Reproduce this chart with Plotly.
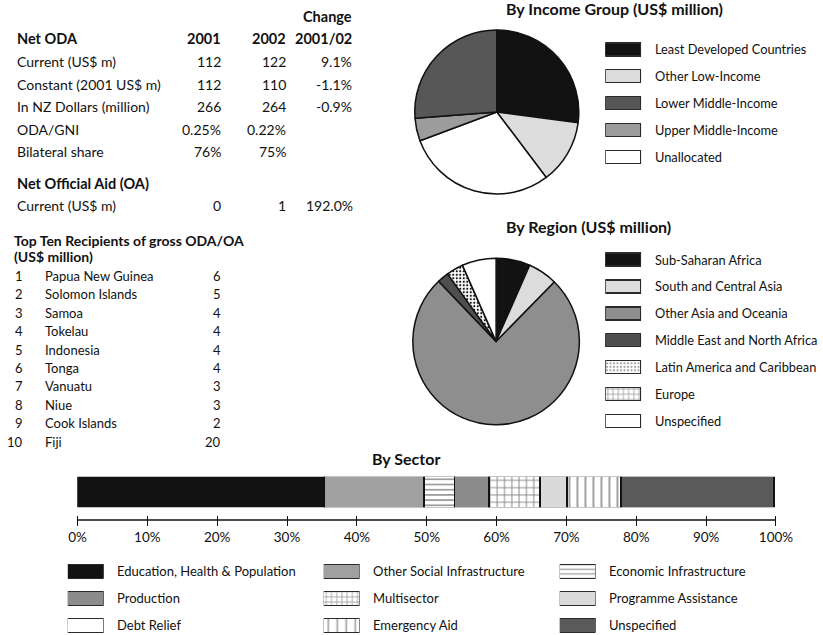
import plotly.graph_objects as go

W, H = 823, 635
FONT = "Lato"
INK = "#111111"

# ---------------- data ----------------
net_oda_labels = ["Current (US$ m)", "Constant (2001 US$ m)", "In NZ Dollars (million)", "ODA/GNI", "Bilateral share"]
net_oda_2001 = ["112", "112", "266", "0.25%", "76%"]
net_oda_2002 = ["122", "110", "264", "0.22%", "75%"]
net_oda_change = ["9.1%", "-1.1%", "-0.9%", "", ""]

oa_labels = ["Current (US$ m)"]
oa_2001 = ["0"]
oa_2002 = ["1"]
oa_change = ["192.0%"]

recipients = ["Papua New Guinea", "Solomon Islands", "Samoa", "Tokelau", "Indonesia",
              "Tonga", "Vanuatu", "Niue", "Cook Islands", "Fiji"]
recipient_values = [6, 5, 4, 4, 4, 4, 3, 3, 2, 20]

income_labels = ["Least Developed Countries", "Other Low-Income", "Lower Middle-Income",
                 "Upper Middle-Income", "Unallocated"]
income_values = [27.1, 12.6, 26.2, 4.5, 29.6]
income_pie_order = [0, 1, 4, 3, 2]

region_labels = ["Sub-Saharan Africa", "South and Central Asia", "Other Asia and Oceania",
                 "Middle East and North Africa", "Latin America and Caribbean", "Europe", "Unspecified"]
region_values = [6.6, 5.7, 75.4, 2.2, 3.3, 0.0, 6.6]

sector_labels = ["Education, Health & Population", "Other Social Infrastructure", "Economic Infrastructure",
                 "Production", "Multisector", "Programme Assistance",
                 "Debt Relief", "Emergency Aid", "Unspecified"]
sector_values = [35.3, 14.3, 4.4, 4.9, 7.3, 3.9, 0.0, 7.7, 21.9]
sector_bar_order = [0, 1, 2, 3, 4, 5, 7, 6, 8]
sector_ticks = [0, 10, 20, 30, 40, 50, 60, 70, 80, 90, 100]
sector_tick_text = ["0%", "10%", "20%", "30%", "40%", "50%", "60%", "70%", "80%", "90%", "100%"]

# ---------------- styles ----------------
income_colors = ["#121212", "#dcdcdc", "#575757", "#9c9c9c", "#ffffff"]
region_colors = ["#121212", "#dcdcdc", "#8e8e8e", "#4e4e4e", "#ffffff", "#ffffff", "#ffffff"]
region_patterns = ["", "", "", "", ".", "+", ""]
region_psize = [5, 5, 5, 5, 3.5, 5.2, 5]
region_psolid = [0.2, 0.2, 0.2, 0.2, 0.3, 0.3, 0.2]
sector_colors = ["#121212", "#a0a0a0", "#ffffff", "#8c8c8c", "#ffffff", "#dadada", "#ffffff", "#ffffff", "#5a5a5a"]
sector_patterns = ["", "", "-", "", "+", "", "", "|", ""]
sector_bar_psize = [7, 7, 5.2, 7, 7.3, 7, 7, 8, 7]
sector_bar_psolid = [0.2, 0.2, 0.28, 0.2, 0.25, 0.2, 0.2, 0.2, 0.2]
sector_leg_psize = [5, 5, 4.6, 5, 5.2, 5, 5, 9, 5]
sector_leg_psolid = [0.2, 0.2, 0.3, 0.2, 0.3, 0.2, 0.2, 0.18, 0.2]


def fx(px):
    return px / W


def fy(py):
    return 1 - py / H


fig = go.Figure()
ann = []


def text(x, y, s, anchor="left", size=14, bold=False):
    ann.append(dict(x=fx(x), y=fy(y), xref="paper", yref="paper", text=f"<b>{s}</b>" if bold else s,
                    showarrow=False, xanchor=anchor, yanchor="middle",
                    font=dict(family=FONT, size=size, color=INK)))


# ---------------- table ----------------
L = 6
C1, C2, C3 = 221, 288, 356
text(C3, 16, "Change", "right", bold=True, size=14.5)
text(L, 39, "Net ODA", bold=True, size=14.5)
text(C1, 39, "2001", "right", bold=True, size=14.5)
text(C2, 39, "2002", "right", bold=True, size=14.5)
text(C3, 39, "2001/02", "right", bold=True, size=14.5)
for i, lab in enumerate(net_oda_labels):
    y = 61.7 + i * 22.5
    text(L, y, lab)
    text(C1, y, net_oda_2001[i], "right")
    text(C2, y, net_oda_2002[i], "right")
    text(C3, y, net_oda_change[i], "right")
text(L, 183.3, "Net Official Aid (OA)", bold=True, size=14.5)
for i, lab in enumerate(oa_labels):
    y = 205.7 + i * 22.5
    text(L, y, lab)
    text(C1, y, oa_2001[i], "right")
    text(C2, y, oa_2002[i], "right")
    text(357, y, oa_change[i], "right")

text(3, 240, "Top Ten Recipients of gross ODA/OA", bold=True, size=14)
text(3, 256.7, "(US$ million)", bold=True, size=14)
for i, name in enumerate(recipients):
    y = 276 + i * 18.4
    text(17, y, str(i + 1), "right", size=13)
    text(35, y, name, size=13)
    text(C1, y, str(recipient_values[i]), "right", size=13)

# ---------------- pies ----------------
def pie_domain(cx, cy, r):
    return dict(x=[fx(cx - r), fx(cx + r)], y=[fy(cy + r), fy(cy - r)])


fig.add_trace(go.Pie(
    labels=[income_labels[i] for i in income_pie_order],
    values=[income_values[i] for i in income_pie_order],
    marker=dict(colors=[income_colors[i] for i in income_pie_order], line=dict(color=INK, width=1.5)),
    sort=False, direction="clockwise", rotation=0, textinfo="none", hoverinfo="label+percent",
    showlegend=False, domain=pie_domain(503.7, 112, 84.7)))

fig.add_trace(go.Pie(
    labels=region_labels, values=region_values,
    marker=dict(colors=region_colors, line=dict(color=INK, width=1.5),
                pattern=dict(shape=region_patterns, fgcolor=INK, bgcolor="#ffffff",
                             size=region_psize, solidity=region_psolid)),
    sort=False, direction="clockwise", rotation=0, textinfo="none", hoverinfo="label+percent",
    showlegend=False, domain=pie_domain(503, 341.5, 86)))

text(511, 8, "By Income Group (US$ million)", bold=True, size=16)
text(511, 226.7, "By Region (US$ million)", bold=True, size=16)
text(409.5, 458, "By Sector", "center", bold=True, size=16)

# ---------------- sector bar ----------------
for i in sector_bar_order:
    fig.add_trace(go.Bar(
        x=[sector_values[i]], y=["sector"], orientation="h", name=sector_labels[i], width=1,
        marker=dict(color=sector_colors[i], line=dict(color=INK, width=1.5),
                    pattern=dict(shape=sector_patterns[i], fgcolor=INK, bgcolor=sector_colors[i],
                                 size=sector_bar_psize[i], solidity=sector_bar_psolid[i])),
        showlegend=False, xaxis="x", yaxis="y"))

bar_x0, bar_x1 = 70.7, 792
AXIS_Y = 520
fig.update_layout(
    barmode="stack",
    xaxis=dict(range=[0, 100], tickmode="array", tickvals=sector_ticks, ticktext=sector_tick_text,
               showgrid=False, zeroline=False, showline=False,
               ticks="outside", ticklen=10, tickwidth=1.4, tickcolor=INK,
               anchor="free", position=fy(AXIS_Y - 5), domain=[fx(bar_x0), fx(bar_x1)],
               tickfont=dict(family=FONT, size=13.5, color=INK)),
    yaxis=dict(domain=[fy(507.3), fy(476.7)], range=[-0.5, 0.5], visible=False, anchor="x"),
    shapes=[dict(type="line", xref="paper", yref="paper", x0=fx(bar_x0), x1=fx(bar_x1),
                 y0=fy(AXIS_Y), y1=fy(AXIS_Y), line=dict(color=INK, width=1.4))],
)

# ---------------- legends (swatch bars) ----------------
def swatch_legend(idx, labels, colors, patterns, psize, psolid, x0, y0, step, h, fsize):
    n = len(labels)
    xa, ya = f"x{idx}", f"y{idx}"
    top_px = max(0.0, y0 - 0.5 * step)
    bot_px = min(float(H), y0 + (n - 0.5) * step)
    fig.add_trace(go.Bar(
        x=[1] * n, y=labels, orientation="h", width=h / step,
        marker=dict(color=colors, line=dict(color="#2a2a2a", width=1.4),
                    pattern=dict(shape=patterns, fgcolor=INK, bgcolor=colors, size=psize, solidity=psolid)),
        showlegend=False, hoverinfo="y", xaxis=xa, yaxis=ya))
    fig.layout[f"xaxis{idx}"] = dict(domain=[fx(x0), fx(x0 + 37)], range=[0, 1], visible=False, anchor=ya)
    fig.layout[f"yaxis{idx}"] = dict(domain=[fy(bot_px), fy(top_px)],
                                     range=[(bot_px - y0) / step, (top_px - y0) / step],
                                     visible=False, anchor=xa, type="category",
                                     categoryorder="array", categoryarray=labels)
    for i, lab in enumerate(labels):
        text(x0 + 49, y0 + i * step, lab, size=fsize)


swatch_legend(3, income_labels, income_colors, [""] * 5, [5] * 5, [0.2] * 5,
              615.7, 49.3, 26.85, 13, 12.8)
swatch_legend(4, region_labels, region_colors, region_patterns, region_psize, region_psolid,
              615.7, 259.5, 26.9, 13, 12.8)

sector_cols = [[0, 3, 6], [1, 4, 7], [2, 5, 8]]
sector_col_x = [60.7, 325, 568.7]
for c, idxs in enumerate(sector_cols):
    swatch_legend(5 + c, [sector_labels[i] for i in idxs], [sector_colors[i] for i in idxs],
                  [sector_patterns[i] for i in idxs], [sector_leg_psize[i] for i in idxs],
                  [sector_leg_psolid[i] for i in idxs], sector_col_x[c], 571.3, 27, 14, 13)

fig.update_layout(
    width=W, height=H, margin=dict(l=0, r=0, t=0, b=0),
    paper_bgcolor="white", plot_bgcolor="rgba(0,0,0,0)",
    annotations=ann, showlegend=False,
    font=dict(family=FONT, color=INK),
)

fig.write_html("out.html")
